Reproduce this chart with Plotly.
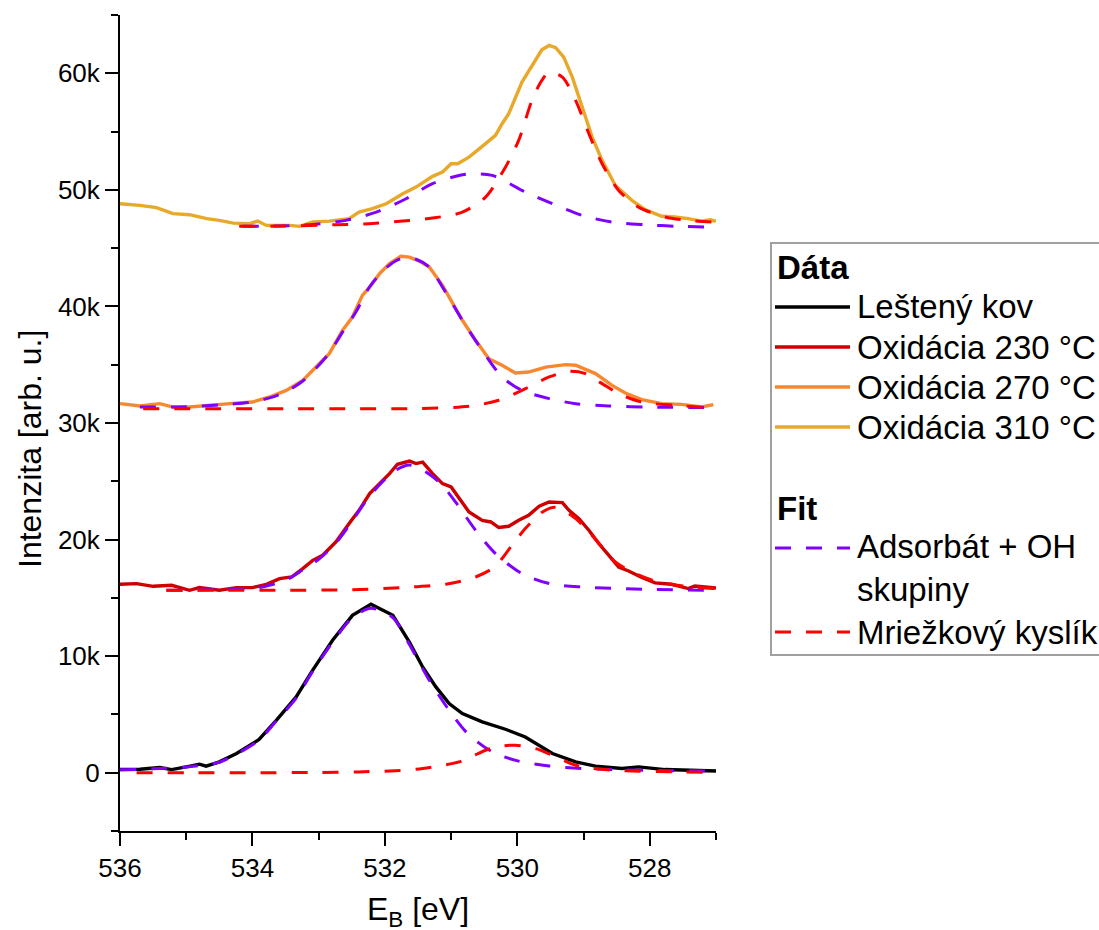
import plotly.graph_objects as go

# ---------------- data ----------------
# Leštený kov
kov_x = [536.0, 535.7, 535.4, 535.22, 535.0, 534.8, 534.7, 534.5, 534.24, 533.9, 533.64, 533.34, 533.09,
         532.79, 532.49, 532.21, 531.88, 531.63, 531.43, 531.23, 531.03, 530.83, 530.53, 530.18, 529.88,
         529.67, 529.47, 529.12, 528.82, 528.42, 528.17, 527.77, 527.47, 527.0]
kov_y = [270, 300, 450, 270, 500, 730, 560, 930, 1650, 2850, 4500, 6500, 8800,
         11360, 13500, 14450, 13500, 11200, 9070, 7360, 5930, 5080, 4360, 3730, 3070,
         2360, 1650, 930, 560, 360, 500, 270, 210, 150]

# Oxidácia 230 °C
o230_x = [536.0, 535.75, 535.5, 535.22, 534.95, 534.8, 534.5, 534.24, 534.0, 533.79, 533.59, 533.41, 533.24,
          533.09, 532.94, 532.74, 532.54, 532.39, 532.23, 532.08, 531.93, 531.81, 531.63, 531.53, 531.43,
          531.28, 531.13, 531.0, 530.88, 530.73, 530.53, 530.4, 530.28, 530.13, 529.98, 529.83, 529.67,
          529.52, 529.32, 529.22, 529.07, 528.92, 528.77, 528.62, 528.47, 528.32, 528.12, 527.92, 527.67,
          527.42, 527.32, 527.0]
o230_y = [16165, 16220, 15990, 16080, 15650, 15880, 15650, 15880, 15880, 16165, 16650, 16790, 17510,
          18220, 18650, 19790, 21370, 22510, 23940, 24800, 25660, 26460, 26740, 26520, 26650,
          25660, 24800, 24510, 23520, 22370, 21650, 21510, 21030, 21140, 21650, 22080, 22860,
          23220, 23170, 22510, 21800, 20800, 19660, 18650, 17650, 17310, 16740, 16280, 16165,
          15800, 16020, 15850]

# Oxidácia 270 °C
o270_x = [536.0, 535.7, 535.4, 535.2, 534.95, 534.69, 534.34, 534.0, 533.74, 533.49, 533.24, 533.04, 532.84,
          532.64, 532.49, 532.34, 532.23, 532.08, 531.93, 531.76, 531.63, 531.48, 531.33, 531.13, 530.98,
          530.83, 530.63, 530.43, 530.23, 530.03, 529.83, 529.57, 529.27, 529.12, 528.82, 528.57, 528.37,
          528.12, 527.82, 527.52, 527.22, 527.04]
o270_y = [31660, 31460, 31660, 31370, 31370, 31520, 31660, 31800, 32230, 32800, 33660, 34800, 35950,
          37950, 39090, 40950, 41660, 42810, 43670, 44300, 44230, 43890, 43380, 41810, 40380,
          38810, 37090, 35520, 34950, 34290, 34370, 34800, 35010, 34950, 34240, 33230, 32570,
          32000, 31660, 31600, 31370, 31570]

# Oxidácia 310 °C
o310_x = [536.0, 535.7, 535.45, 535.2, 534.95, 534.69, 534.5, 534.29, 534.04, 533.92, 533.79, 533.44, 533.29,
          533.09, 532.84, 532.54, 532.39, 532.19, 531.98, 531.73, 531.53, 531.28, 531.13, 531.0, 530.9,
          530.73, 530.53, 530.33, 530.23, 530.13, 529.93, 529.72, 529.63, 529.52, 529.42, 529.3, 529.17,
          529.02, 528.87, 528.72, 528.52, 528.27, 528.07, 527.82, 527.62, 527.42, 527.22, 527.09, 527.0]
o310_y = [48810, 48670, 48470, 47960, 47870, 47530, 47380, 47150, 47100, 47320, 46950, 46950, 46870,
          47240, 47320, 47530, 48090, 48390, 48810, 49670, 50240, 51160, 51530, 52240, 52240,
          52810, 53730, 54670, 55670, 56530, 59240, 61250, 62020, 62390, 62190, 61390, 59670,
          57100, 54530, 52530, 50380, 49100, 48300, 47730, 47670, 47530, 47320, 47440, 47300]

# Fit – Adsorbát + OH skupiny
ads_kov_x = [536.0, 535.5, 535.0, 534.5, 534.24, 533.9, 533.64, 533.34, 533.09, 532.79, 532.49, 532.21,
             531.88, 531.63, 531.33, 531.03, 530.75, 530.38, 529.98, 529.52, 529.02, 528.12, 527.1]
ads_kov_y = [250, 330, 500, 900, 1600, 2800, 4450, 6400, 8700, 11200, 13300, 14100,
             13300, 11000, 7930, 5360, 3360, 1790, 990, 580, 360, 210, 150]

ads_230_x = [535.3, 534.5, 534.0, 533.8, 533.5, 533.24, 533.0, 532.74, 532.54, 532.3, 532.08, 531.85,
             531.63, 531.38, 531.13, 530.88, 530.63, 530.33, 529.93, 529.52, 529.02, 528.12, 527.1]
ads_230_y = [15650, 15700, 15800, 16000, 16500, 17400, 18300, 19700, 21200, 23200, 24700, 25900,
             26400, 25800, 24650, 22800, 20800, 18800, 17080, 16225, 15930, 15740, 15650]

ads_270_x = [535.7, 535.0, 534.5, 534.0, 533.74, 533.49, 533.24, 533.04, 532.84, 532.64, 532.44, 532.24,
             532.04, 531.84, 531.7, 531.53, 531.33, 531.13, 530.83, 530.53, 530.23, 529.93, 529.52,
             529.12, 528.62, 528.02, 527.1]
ads_270_y = [31370, 31400, 31550, 31800, 32150, 32700, 33600, 34700, 36000, 37800, 39500, 41600,
             43000, 43900, 44200, 44050, 43380, 41660, 38810, 36230, 33950, 32800, 32090,
             31660, 31460, 31370, 31320]

ads_310_x = [534.15, 533.6, 533.09, 532.59, 532.13, 531.68, 531.28, 530.78, 530.38, 529.88, 529.47,
             529.02, 528.57, 528.07, 527.57, 527.1]
ads_310_y = [46870, 46900, 47030, 47380, 48090, 49240, 50530, 51330, 51240, 49810, 48810,
             47810, 47240, 47010, 46870, 46810]

# Fit – Mriežkový kyslík
lat_kov_x = [535.75, 535.0, 534.0, 533.0, 532.4, 531.7, 531.43, 531.15, 530.88, 530.68, 530.48, 530.25,
             530.03, 529.72, 529.42, 529.22, 529.02, 528.52, 527.62, 527.0]
lat_kov_y = [0, 0, 0, 20, 70, 210, 360, 600, 930, 1400, 1930, 2280,
             2360, 2070, 1360, 850, 500, 210, 70, 20]

lat_230_x = [535.3, 534.5, 533.5, 532.5, 531.6, 531.08, 530.63, 530.38, 530.23, 530.08, 529.88, 529.62,
             529.42, 529.12, 528.92, 528.72, 528.52, 528.22, 527.87, 527.37, 527.0]
lat_230_y = [15650, 15650, 15650, 15700, 15930, 16165, 16790, 17510, 18370, 19510, 20940, 22370,
             22770, 21800, 20650, 19370, 18080, 17080, 16360, 15930, 15800]

lat_270_x = [535.65, 534.5, 533.5, 532.5, 531.63, 530.73, 530.28, 529.93, 529.52, 529.22, 528.97, 528.72,
             528.47, 528.12, 527.62, 527.0]
lat_270_y = [31230, 31230, 31230, 31230, 31230, 31430, 31950, 32800, 33950, 34430, 34240, 33380,
             32520, 31800, 31520, 31290]

lat_310_x = [534.2, 533.5, 532.74, 532.24, 531.73, 531.28, 530.83, 530.48, 530.18, 529.98, 529.78, 529.63,
             529.52, 529.32, 529.12, 528.92, 528.72, 528.47, 528.17, 527.77, 527.42, 527.06]
lat_310_y = [46870, 46900, 47010, 47100, 47320, 47580, 48090, 49380, 51950, 54240, 57670, 59390,
             60100, 59670, 57670, 54820, 52240, 49950, 48520, 47670, 47380, 47240]

data_names = ["Leštený kov", "Oxidácia 230 °C", "Oxidácia 270 °C", "Oxidácia 310 °C"]
data_colors = ["#000000", "#CC0000", "#F7882F", "#E8A82A"]
fit_names = ["Adsorbát + OH<br>skupiny", "Mriežkový kyslík"]
fit_colors = ["#8000FF", "#FF0000"]
legend_heads = ["Dáta", "Fit"]

# ---------------- figure ----------------
FONT = "Liberation Sans, Arial, sans-serif"
W, H = 1099, 930
ML, MR, MT, MB = 120, 383, 15, 99
PW, PH = W - ML - MR, H - MT - MB
DASH = "16px,15px"


def px2x(px):
    return (px - ML) / PW


def py2y(py):
    return (H - MB - py) / PH


fig = go.Figure()

data_sets = [(kov_x, kov_y), (o230_x, o230_y), (o270_x, o270_y), (o310_x, o310_y)]
for (xs, ys), name, col in zip(data_sets, data_names, data_colors):
    fig.add_trace(go.Scatter(
        x=xs, y=ys, mode="lines", name=name,
        line=dict(color=col, width=3.4),
        showlegend=False,
    ))

fits = [
    ((ads_kov_x, ads_kov_y), (lat_kov_x, lat_kov_y)),
    ((ads_230_x, ads_230_y), (lat_230_x, lat_230_y)),
    ((ads_270_x, ads_270_y), (lat_270_x, lat_270_y)),
    ((ads_310_x, ads_310_y), (lat_310_x, lat_310_y)),
]
for pair in fits:
    for j, (xs, ys) in enumerate(pair):
        fig.add_trace(go.Scatter(
            x=xs, y=ys, mode="lines", name=fit_names[j].replace("<br>", " "),
            line=dict(color=fit_colors[j], width=3, dash=DASH, shape="spline", smoothing=0.8),
            showlegend=False,
        ))

fig.update_layout(
    width=W, height=H,
    margin=dict(l=ML, r=MR, t=MT, b=MB),
    paper_bgcolor="white", plot_bgcolor="white",
    font=dict(family=FONT, size=26, color="black"),
    showlegend=False,
)

fig.update_xaxes(
    range=[536, 527], tick0=528, dtick=2,
    showline=True, linecolor="black", linewidth=2, mirror=False,
    ticks="outside", ticklen=13, tickwidth=2, tickcolor="black",
    minor=dict(dtick=1, ticks="outside", ticklen=7, tickwidth=2, tickcolor="black"),
    showgrid=False, zeroline=False,
    tickfont=dict(size=26, family=FONT, color="black"),
)
fig.update_yaxes(
    range=[-5000, 65000], tick0=0, dtick=10000, tickformat="~s",
    showline=True, linecolor="black", linewidth=2, mirror=False,
    ticks="outside", ticklen=13, tickwidth=2, tickcolor="black",
    minor=dict(dtick=5000, ticks="outside", ticklen=7, tickwidth=2, tickcolor="black"),
    showgrid=False, zeroline=False,
    tickfont=dict(size=26, family=FONT, color="black"),
)

# axis titles
fig.add_annotation(
    text="Intenzita [arb. u.]", textangle=-90, showarrow=False,
    xref="paper", yref="paper", x=px2x(30), y=py2y(449), xanchor="center", yanchor="middle",
    font=dict(size=32, family=FONT, color="black"),
)
fig.add_annotation(
    text="E<sub>B</sub> [eV]", showarrow=False,
    xref="paper", yref="paper", x=0.5, y=py2y(889), xanchor="center", yanchor="top",
    font=dict(size=32, family=FONT, color="black"),
)

# ---------------- legend (drawn as a box with samples and labels) ----------------
LEG_FONT = 33
fig.add_shape(type="rect", xref="paper", yref="paper",
              x0=px2x(771), x1=px2x(1112), y0=py2y(655), y1=py2y(243),
              line=dict(color="#A0A0A0", width=2), fillcolor="white", layer="above")

fig.add_annotation(text="<b>" + legend_heads[0] + "</b>", showarrow=False, xref="paper", yref="paper",
                   x=px2x(775), y=py2y(267), xanchor="left", yanchor="middle",
                   font=dict(size=LEG_FONT, family=FONT, color="black"))
fig.add_annotation(text="<b>" + legend_heads[1] + "</b>", showarrow=False, xref="paper", yref="paper",
                   x=px2x(775), y=py2y(508), xanchor="left", yanchor="middle",
                   font=dict(size=LEG_FONT, family=FONT, color="black"))

row_y = [307, 347, 387, 427]
for name, col, ry in zip(data_names, data_colors, row_y):
    fig.add_shape(type="line", xref="paper", yref="paper",
                  x0=px2x(775), x1=px2x(850), y0=py2y(ry), y1=py2y(ry),
                  line=dict(color=col, width=3.4), layer="above")
    fig.add_annotation(text=name, showarrow=False, xref="paper", yref="paper",
                       x=px2x(855), y=py2y(ry), xanchor="left", yanchor="middle",
                       font=dict(size=LEG_FONT, family=FONT, color="black"))

fit_rows = [(548, 568), (632, 632)]
for name, col, (ly, ty) in zip(fit_names, fit_colors, fit_rows):
    fig.add_shape(type="line", xref="paper", yref="paper",
                  x0=px2x(775), x1=px2x(850), y0=py2y(ly), y1=py2y(ly),
                  line=dict(color=col, width=3, dash=DASH), layer="above")
    fig.add_annotation(text=name, showarrow=False, xref="paper", yref="paper",
                       x=px2x(855), y=py2y(ty), xanchor="left", yanchor="middle", align="left",
                       font=dict(size=LEG_FONT, family=FONT, color="black"))

fig.write_html("out.html")
